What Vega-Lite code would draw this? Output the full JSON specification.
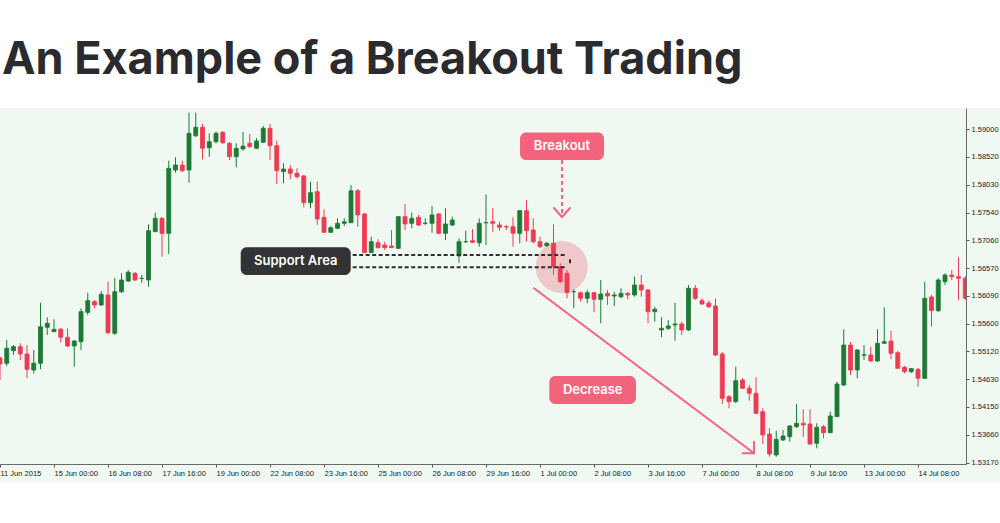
{
  "$schema": "https://vega.github.io/schema/vega-lite/v6.json",
  "width": 966,
  "height": 356,
  "autosize": {"type": "none"},
  "padding": {"left": 0, "top": 108, "right": 34, "bottom": 59},
  "background": "white",
  "config": {"view": {"stroke": null, "fill": "#eff9f1"}},
  "title": {"text": "An Example of a Breakout Trading", "anchor": "start", "frame": "group", "orient": "top", "offset": -11, "baseline": "alphabetic", "font": "Inter", "fontSize": 45, "fontWeight": 700, "color": "#2b2b2f", "dx": 2},
  "datasets": {
    "candles": [
      {"i":-1,"o":1.55001,"h":1.55024,"l":1.54616,"c":1.54896},
      {"i":0,"o":1.54908,"h":1.55316,"l":1.54861,"c":1.55171},
      {"i":1,"o":1.55129,"h":1.55228,"l":1.55054,"c":1.55199},
      {"i":2,"o":1.55199,"h":1.55258,"l":1.54966,"c":1.55071},
      {"i":3,"o":1.55071,"h":1.55228,"l":1.54646,"c":1.54803},
      {"i":4,"o":1.54791,"h":1.55141,"l":1.54733,"c":1.54908},
      {"i":5,"o":1.54908,"h":1.55968,"l":1.54803,"c":1.55548},
      {"i":6,"o":1.55538,"h":1.55713,"l":1.55403,"c":1.55608},
      {"i":7,"o":1.55461,"h":1.55678,"l":1.55456,"c":1.55503},
      {"i":8,"o":1.55503,"h":1.55526,"l":1.55269,"c":1.55363},
      {"i":9,"o":1.55363,"h":1.55520,"l":1.55193,"c":1.55211},
      {"i":10,"o":1.55211,"h":1.55316,"l":1.54849,"c":1.55298},
      {"i":11,"o":1.55286,"h":1.55870,"l":1.55141,"c":1.55811},
      {"i":12,"o":1.55800,"h":1.56143,"l":1.55753,"c":1.56003},
      {"i":13,"o":1.55986,"h":1.56015,"l":1.55870,"c":1.55928},
      {"i":14,"o":1.55928,"h":1.56173,"l":1.55910,"c":1.56115},
      {"i":15,"o":1.56103,"h":1.56335,"l":1.55421,"c":1.55443},
      {"i":16,"o":1.55433,"h":1.56400,"l":1.55403,"c":1.56160},
      {"i":17,"o":1.56160,"h":1.56487,"l":1.56138,"c":1.56365},
      {"i":18,"o":1.56347,"h":1.56540,"l":1.56330,"c":1.56500},
      {"i":19,"o":1.56482,"h":1.56505,"l":1.56347,"c":1.56365},
      {"i":20,"o":1.56390,"h":1.56452,"l":1.56318,"c":1.56395},
      {"i":21,"o":1.56365,"h":1.57339,"l":1.56248,"c":1.57227},
      {"i":22,"o":1.57210,"h":1.57542,"l":1.57204,"c":1.57444},
      {"i":23,"o":1.57444,"h":1.57467,"l":1.56772,"c":1.57181},
      {"i":24,"o":1.57181,"h":1.58451,"l":1.56820,"c":1.58318},
      {"i":25,"o":1.58288,"h":1.58510,"l":1.58241,"c":1.58376},
      {"i":26,"o":1.58376,"h":1.58451,"l":1.58253,"c":1.58276},
      {"i":27,"o":1.58288,"h":1.59290,"l":1.58066,"c":1.58930},
      {"i":28,"o":1.58888,"h":1.59290,"l":1.58865,"c":1.59035},
      {"i":29,"o":1.59035,"h":1.59093,"l":1.58475,"c":1.58668},
      {"i":30,"o":1.58678,"h":1.58930,"l":1.58521,"c":1.58783},
      {"i":31,"o":1.58783,"h":1.58958,"l":1.58755,"c":1.58930},
      {"i":32,"o":1.58948,"h":1.58970,"l":1.58743,"c":1.58766},
      {"i":33,"o":1.58755,"h":1.58778,"l":1.58463,"c":1.58521},
      {"i":34,"o":1.58521,"h":1.58755,"l":1.58336,"c":1.58668},
      {"i":35,"o":1.58656,"h":1.58958,"l":1.58626,"c":1.58708},
      {"i":36,"o":1.58755,"h":1.58918,"l":1.58668,"c":1.58696},
      {"i":37,"o":1.58668,"h":1.58843,"l":1.58656,"c":1.58796},
      {"i":38,"o":1.58773,"h":1.59058,"l":1.58761,"c":1.59018},
      {"i":39,"o":1.59018,"h":1.59093,"l":1.58463,"c":1.58713},
      {"i":40,"o":1.58713,"h":1.58801,"l":1.58044,"c":1.58276},
      {"i":41,"o":1.58259,"h":1.58406,"l":1.58056,"c":1.58306},
      {"i":42,"o":1.58306,"h":1.58376,"l":1.58126,"c":1.58231},
      {"i":43,"o":1.58231,"h":1.58318,"l":1.58143,"c":1.58171},
      {"i":44,"o":1.58184,"h":1.58201,"l":1.57636,"c":1.57717},
      {"i":45,"o":1.57717,"h":1.58084,"l":1.57619,"c":1.57892},
      {"i":46,"o":1.57909,"h":1.58084,"l":1.57327,"c":1.57432},
      {"i":47,"o":1.57461,"h":1.57601,"l":1.57187,"c":1.57199},
      {"i":48,"o":1.57199,"h":1.57309,"l":1.57187,"c":1.57279},
      {"i":49,"o":1.57269,"h":1.57444,"l":1.57257,"c":1.57356},
      {"i":50,"o":1.57356,"h":1.57444,"l":1.57309,"c":1.57384},
      {"i":51,"o":1.57367,"h":1.58026,"l":1.57362,"c":1.57926},
      {"i":52,"o":1.57926,"h":1.57956,"l":1.57297,"c":1.57502},
      {"i":53,"o":1.57519,"h":1.57536,"l":1.56837,"c":1.56842},
      {"i":54,"o":1.56842,"h":1.57122,"l":1.56837,"c":1.57035},
      {"i":55,"o":1.57017,"h":1.57077,"l":1.56916,"c":1.56930},
      {"i":56,"o":1.56977,"h":1.57035,"l":1.56890,"c":1.56930},
      {"i":57,"o":1.56960,"h":1.57239,"l":1.56925,"c":1.56930},
      {"i":58,"o":1.56919,"h":1.57484,"l":1.56907,"c":1.57472},
      {"i":59,"o":1.57472,"h":1.57694,"l":1.57239,"c":1.57344},
      {"i":60,"o":1.57356,"h":1.57542,"l":1.57269,"c":1.57444},
      {"i":61,"o":1.57461,"h":1.57501,"l":1.57309,"c":1.57327},
      {"i":62,"o":1.57356,"h":1.57444,"l":1.57327,"c":1.57360},
      {"i":63,"o":1.57356,"h":1.57659,"l":1.57192,"c":1.57502},
      {"i":64,"o":1.57519,"h":1.57536,"l":1.57169,"c":1.57181},
      {"i":65,"o":1.57181,"h":1.57619,"l":1.57064,"c":1.57344},
      {"i":66,"o":1.57327,"h":1.57472,"l":1.57309,"c":1.57414},
      {"i":67,"o":1.56785,"h":1.57094,"l":1.56667,"c":1.57035},
      {"i":68,"o":1.57035,"h":1.57227,"l":1.57012,"c":1.57035},
      {"i":69,"o":1.57052,"h":1.57257,"l":1.57012,"c":1.57024},
      {"i":70,"o":1.57017,"h":1.57444,"l":1.56947,"c":1.57356},
      {"i":71,"o":1.57364,"h":1.57863,"l":1.56977,"c":1.57370},
      {"i":72,"o":1.57384,"h":1.57619,"l":1.57210,"c":1.57356},
      {"i":73,"o":1.57327,"h":1.57384,"l":1.57227,"c":1.57286},
      {"i":74,"o":1.57297,"h":1.57327,"l":1.57239,"c":1.57294},
      {"i":75,"o":1.57297,"h":1.57461,"l":1.56947,"c":1.57181},
      {"i":76,"o":1.57181,"h":1.57589,"l":1.57007,"c":1.57577},
      {"i":77,"o":1.57577,"h":1.57764,"l":1.57035,"c":1.57227},
      {"i":78,"o":1.57239,"h":1.57444,"l":1.57007,"c":1.57035},
      {"i":79,"o":1.57035,"h":1.57122,"l":1.56925,"c":1.56947},
      {"i":80,"o":1.56965,"h":1.57030,"l":1.56942,"c":1.57007},
      {"i":81,"o":1.57007,"h":1.57339,"l":1.56452,"c":1.56597},
      {"i":82,"o":1.56597,"h":1.56657,"l":1.56312,"c":1.56335},
      {"i":83,"o":1.56482,"h":1.56540,"l":1.56045,"c":1.56143},
      {"i":84,"o":1.56160,"h":1.56202,"l":1.55870,"c":1.56160},
      {"i":85,"o":1.56143,"h":1.56160,"l":1.55986,"c":1.56045},
      {"i":86,"o":1.56045,"h":1.56190,"l":1.55958,"c":1.56143},
      {"i":87,"o":1.56143,"h":1.56160,"l":1.55800,"c":1.56027},
      {"i":88,"o":1.56027,"h":1.56365,"l":1.55608,"c":1.56120},
      {"i":89,"o":1.56132,"h":1.56190,"l":1.55928,"c":1.56085},
      {"i":90,"o":1.56085,"h":1.56160,"l":1.55910,"c":1.56103},
      {"i":91,"o":1.56073,"h":1.56220,"l":1.56045,"c":1.56132},
      {"i":92,"o":1.56132,"h":1.56155,"l":1.56027,"c":1.56103},
      {"i":93,"o":1.56103,"h":1.56423,"l":1.56073,"c":1.56278},
      {"i":94,"o":1.56278,"h":1.56452,"l":1.56073,"c":1.56190},
      {"i":95,"o":1.56190,"h":1.56208,"l":1.55608,"c":1.55811},
      {"i":96,"o":1.55811,"h":1.55898,"l":1.55636,"c":1.55853},
      {"i":97,"o":1.55491,"h":1.55713,"l":1.55363,"c":1.55520},
      {"i":98,"o":1.55520,"h":1.55666,"l":1.55491,"c":1.55561},
      {"i":99,"o":1.55578,"h":1.55968,"l":1.55304,"c":1.55596},
      {"i":100,"o":1.55596,"h":1.55636,"l":1.55403,"c":1.55491},
      {"i":101,"o":1.55491,"h":1.56278,"l":1.55473,"c":1.56220},
      {"i":102,"o":1.56220,"h":1.56278,"l":1.56015,"c":1.56045},
      {"i":103,"o":1.56003,"h":1.56045,"l":1.55928,"c":1.55945},
      {"i":104,"o":1.55958,"h":1.56003,"l":1.55875,"c":1.55898},
      {"i":105,"o":1.55910,"h":1.56045,"l":1.55036,"c":1.55053},
      {"i":106,"o":1.55071,"h":1.55106,"l":1.54197,"c":1.54296},
      {"i":107,"o":1.54324,"h":1.54354,"l":1.54121,"c":1.54237},
      {"i":108,"o":1.54237,"h":1.54849,"l":1.54214,"c":1.54604},
      {"i":109,"o":1.54616,"h":1.54646,"l":1.54459,"c":1.54471},
      {"i":110,"o":1.54471,"h":1.54529,"l":1.54254,"c":1.54384},
      {"i":111,"o":1.54384,"h":1.54663,"l":1.54022,"c":1.54034},
      {"i":112,"o":1.54062,"h":1.54121,"l":1.53497,"c":1.53655},
      {"i":113,"o":1.53672,"h":1.53772,"l":1.53275,"c":1.53322},
      {"i":114,"o":1.53305,"h":1.53730,"l":1.53275,"c":1.53579},
      {"i":115,"o":1.53567,"h":1.53742,"l":1.53550,"c":1.53637},
      {"i":116,"o":1.53625,"h":1.53829,"l":1.53538,"c":1.53812},
      {"i":117,"o":1.53800,"h":1.54197,"l":1.53777,"c":1.53859},
      {"i":118,"o":1.53859,"h":1.54104,"l":1.53625,"c":1.53829},
      {"i":119,"o":1.53847,"h":1.54104,"l":1.53480,"c":1.53497},
      {"i":120,"o":1.53509,"h":1.53859,"l":1.53422,"c":1.53789},
      {"i":121,"o":1.53800,"h":1.53829,"l":1.53597,"c":1.53695},
      {"i":122,"o":1.53695,"h":1.54062,"l":1.53690,"c":1.53987},
      {"i":123,"o":1.53975,"h":1.54587,"l":1.53969,"c":1.54546},
      {"i":124,"o":1.54529,"h":1.55503,"l":1.54511,"c":1.55228},
      {"i":125,"o":1.55228,"h":1.55281,"l":1.54704,"c":1.54791},
      {"i":126,"o":1.54791,"h":1.55158,"l":1.54646,"c":1.55141},
      {"i":127,"o":1.55050,"h":1.55228,"l":1.54966,"c":1.55058},
      {"i":128,"o":1.55054,"h":1.55199,"l":1.54931,"c":1.54949},
      {"i":129,"o":1.54949,"h":1.55503,"l":1.54931,"c":1.55258},
      {"i":130,"o":1.55258,"h":1.55888,"l":1.55246,"c":1.55286},
      {"i":131,"o":1.55298,"h":1.55478,"l":1.54978,"c":1.55083},
      {"i":132,"o":1.55094,"h":1.55123,"l":1.54809,"c":1.54821},
      {"i":133,"o":1.54838,"h":1.54861,"l":1.54733,"c":1.54762},
      {"i":134,"o":1.54762,"h":1.54826,"l":1.54739,"c":1.54814},
      {"i":135,"o":1.54803,"h":1.54826,"l":1.54499,"c":1.54646},
      {"i":136,"o":1.54646,"h":1.56335,"l":1.54634,"c":1.56045},
      {"i":137,"o":1.56068,"h":1.56103,"l":1.55548,"c":1.55828},
      {"i":138,"o":1.55828,"h":1.56395,"l":1.55806,"c":1.56365},
      {"i":139,"o":1.56335,"h":1.56482,"l":1.56278,"c":1.56452},
      {"i":140,"o":1.56452,"h":1.56540,"l":1.56365,"c":1.56423},
      {"i":141,"o":1.56423,"h":1.56762,"l":1.56015,"c":1.56395},
      {"i":142,"o":1.56395,"h":1.56435,"l":1.56015,"c":1.56045}
    ],
    "support": [
      {"i":51.25,"i2":82.96,"p":1.56802},
      {"i":51.25,"i2":82.96,"p":1.56587}
    ],
    "bracket": [
      {"i":83.44,"p":1.56727,"p2":1.56657}
    ],
    "dashArrow": [
      {"i":82.26,"p":1.58463,"p2":1.57484}
    ],
    "pinkLines": [
      {"i":81.07,"p":1.57624,"i2":82.26,"p2":1.57467},
      {"i":83.44,"p":1.57624,"i2":82.26,"p2":1.57467},
      {"i":78.11,"p":1.56220,"i2":110.70,"p2":1.53335},
      {"i":109.03,"p":1.53335,"i2":110.70,"p2":1.53335},
      {"i":110.70,"p":1.53537,"i2":110.70,"p2":1.53335}
    ],
    "circle": [
      {"i":82.21,"p":1.56592}
    ],
    "boxes": [
      {"k":"pink","i":76.04,"i2":88.48,"p":1.58944,"p2":1.58463},
      {"k":"dark","i":34.66,"i2":50.96,"p":1.56937,"p2":1.56452},
      {"k":"pink","i":80.38,"i2":93.22,"p":1.54686,"p2":1.54197}
    ],
    "labels": [
      {"t":"Breakout","i":82.26,"p":1.58708},
      {"t":"Support Area","i":42.81,"p":1.56697},
      {"t":"Decrease","i":86.81,"p":1.54441}
    ]
  },
  "layer": [
    {
      "data": {"values": [{}]},
      "mark": {"type": "rect", "color": "#eff9f1"},
      "encoding": {
        "x": {"datum": -1, "type": "quantitative", "scale": {"domain": [-1, 142.11], "nice": false, "zero": false, "padding": 0}},
        "x2": {"datum": 147.15},
        "y": {"datum": 1.593725, "type": "quantitative", "scale": {"domain": [1.531473, 1.593725], "nice": false, "zero": false, "padding": 0}},
        "y2": {"datum": 1.52833}
      }
    },
    {
      "data": {"name": "candles"},
      "mark": {"type": "rule", "strokeWidth": 1, "clip": true},
      "encoding": {
        "x": {"field": "i", "type": "quantitative", "scale": {"domain": [-1, 142.11], "nice": false, "zero": false, "padding": 0},
          "axis": {"orient": "bottom", "title": null, "grid": false, "zindex": 1,
            "values": [-1, 7, 15, 23, 31, 39, 47, 55, 63, 71, 79, 87, 95, 103, 111, 119, 127, 135],
            "tickCount": 30,
            "labelExpr": "datum.value < 0 ? '11 Jun 2015' : datum.value < 10 ? '15 Jun 00:00' : datum.value < 20 ? '16 Jun 08:00' : datum.value < 30 ? '17 Jun 16:00' : datum.value < 35 ? '19 Jun 00:00' : datum.value < 45 ? '22 Jun 08:00' : datum.value < 50 ? '23 Jun 16:00' : datum.value < 60 ? '25 Jun 00:00' : datum.value < 65 ? '26 Jun 08:00' : datum.value < 75 ? '29 Jun 16:00' : datum.value < 85 ? '1 Jul 00:00' : datum.value < 90 ? '2 Jul 08:00' : datum.value < 100 ? '3 Jul 16:00' : datum.value < 105 ? '7 Jul 00:00' : datum.value < 115 ? '8 Jul 08:00' : datum.value < 125 ? '9 Jul 16:00' : datum.value < 130 ? '13 Jul 00:00' : '14 Jul 08:00'",
            "labelAlign": "left", "labelBaseline": "top", "labelFont": "Liberation Sans", "labelFontSize": 7.5, "labelColor": "#222222",
            "labelPadding": 2, "labelOverlap": false, "labelFlush": false,
            "tickSize": 3, "tickColor": "#555555", "domainColor": "#6a6a6a"}},
        "y": {"field": "l", "type": "quantitative", "scale": {"domain": [1.531473, 1.593725], "nice": false, "zero": false, "padding": 0},
          "axis": {"orient": "right", "title": null, "grid": false, "zindex": 1,
            "values": [1.59, 1.5852, 1.5803, 1.5754, 1.5706, 1.5657, 1.5609, 1.556, 1.5512, 1.5463, 1.5415, 1.5366, 1.5317],
            "tickCount": 30,
            "format": ".5f", "labelFont": "Liberation Sans", "labelFontSize": 7.5, "labelColor": "#222222", "labelPadding": 2,
            "labelOverlap": false, "labelFlush": false,
            "tickSize": 3, "tickColor": "#555555", "domainColor": "#6a6a6a"}},
        "y2": {"field": "h"},
        "color": {"condition": {"test": "datum.c >= datum.o", "value": "#1d7a35"}, "value": "#f03a52"}
      }
    },
    {
      "data": {"name": "circle"},
      "mark": {"type": "point", "filled": true, "shape": "circle", "size": 2704, "color": "#f05a6e", "opacity": 0.3},
      "encoding": {
        "x": {"field": "i", "type": "quantitative", "scale": {"domain": [-1, 142.11], "nice": false, "zero": false, "padding": 0}},
        "y": {"field": "p", "type": "quantitative", "scale": {"domain": [1.531473, 1.593725], "nice": false, "zero": false, "padding": 0}}
      }
    },
    {
      "data": {"name": "candles"},
      "mark": {"type": "bar", "size": 4, "strokeWidth": 0.8, "clip": true},
      "encoding": {
        "x": {"field": "i", "type": "quantitative", "scale": {"domain": [-1, 142.11], "nice": false, "zero": false, "padding": 0}},
        "y": {"field": "o", "type": "quantitative", "scale": {"domain": [1.531473, 1.593725], "nice": false, "zero": false, "padding": 0}},
        "y2": {"field": "c"},
        "color": {"condition": {"test": "datum.c >= datum.o", "value": "#1d7a35"}, "value": "#f03a52"},
        "stroke": {"condition": {"test": "datum.c >= datum.o", "value": "#1d7a35"}, "value": "#f03a52"}
      }
    },
    {
      "data": {"name": "support"},
      "mark": {"type": "rule", "color": "#2e2e30", "strokeWidth": 2, "strokeDash": [4, 2.5]},
      "encoding": {
        "x": {"field": "i", "type": "quantitative", "scale": {"domain": [-1, 142.11], "nice": false, "zero": false, "padding": 0}},
        "x2": {"field": "i2"},
        "y": {"field": "p", "type": "quantitative", "scale": {"domain": [1.531473, 1.593725], "nice": false, "zero": false, "padding": 0}}
      }
    },
    {
      "data": {"name": "bracket"},
      "mark": {"type": "rule", "color": "#2e2e30", "strokeWidth": 2},
      "encoding": {
        "x": {"field": "i", "type": "quantitative", "scale": {"domain": [-1, 142.11], "nice": false, "zero": false, "padding": 0}},
        "y": {"field": "p", "type": "quantitative", "scale": {"domain": [1.531473, 1.593725], "nice": false, "zero": false, "padding": 0}},
        "y2": {"field": "p2"}
      }
    },
    {
      "data": {"name": "dashArrow"},
      "mark": {"type": "rule", "color": "#f2647b", "strokeWidth": 2, "strokeDash": [4, 3]},
      "encoding": {
        "x": {"field": "i", "type": "quantitative", "scale": {"domain": [-1, 142.11], "nice": false, "zero": false, "padding": 0}},
        "y": {"field": "p", "type": "quantitative", "scale": {"domain": [1.531473, 1.593725], "nice": false, "zero": false, "padding": 0}},
        "y2": {"field": "p2"}
      }
    },
    {
      "data": {"name": "pinkLines"},
      "mark": {"type": "rule", "color": "#f2647b", "strokeWidth": 2, "strokeCap": "round"},
      "encoding": {
        "x": {"field": "i", "type": "quantitative", "scale": {"domain": [-1, 142.11], "nice": false, "zero": false, "padding": 0}},
        "x2": {"field": "i2"},
        "y": {"field": "p", "type": "quantitative", "scale": {"domain": [1.531473, 1.593725], "nice": false, "zero": false, "padding": 0}},
        "y2": {"field": "p2"}
      }
    },
    {
      "data": {"name": "boxes"},
      "mark": {"type": "rect", "cornerRadius": 6},
      "encoding": {
        "x": {"field": "i", "type": "quantitative", "scale": {"domain": [-1, 142.11], "nice": false, "zero": false, "padding": 0}},
        "x2": {"field": "i2"},
        "y": {"field": "p", "type": "quantitative", "scale": {"domain": [1.531473, 1.593725], "nice": false, "zero": false, "padding": 0}},
        "y2": {"field": "p2"},
        "color": {"condition": {"test": "datum.k == 'dark'", "value": "#333335"}, "value": "#f2647b"}
      }
    },
    {
      "data": {"name": "labels"},
      "mark": {"type": "text", "color": "white", "font": "Inter", "fontSize": 13, "fontWeight": 600, "align": "center", "baseline": "middle"},
      "encoding": {
        "x": {"field": "i", "type": "quantitative", "scale": {"domain": [-1, 142.11], "nice": false, "zero": false, "padding": 0}},
        "y": {"field": "p", "type": "quantitative", "scale": {"domain": [1.531473, 1.593725], "nice": false, "zero": false, "padding": 0}},
        "text": {"field": "t"}
      }
    }
  ]
}
